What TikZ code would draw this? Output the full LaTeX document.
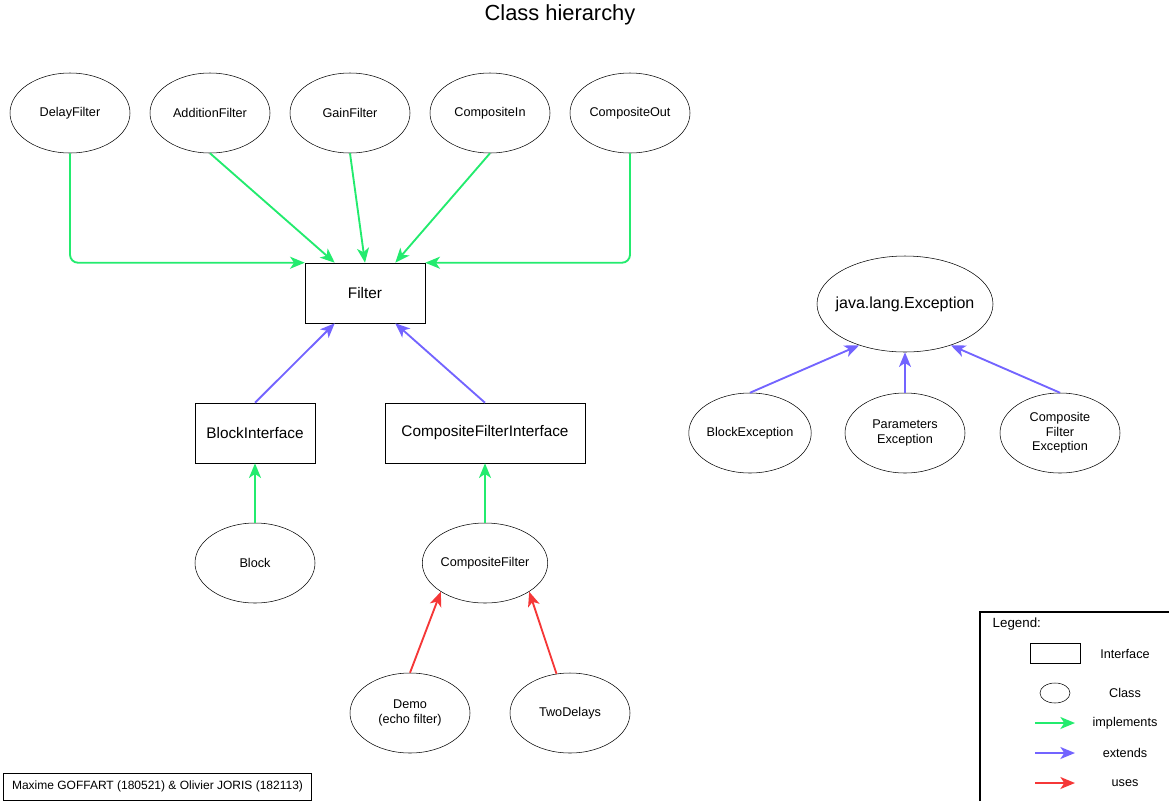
\documentclass[tikz,border=0pt]{standalone}
\usepackage{fontspec}
\setmainfont{Liberation Sans}
\usetikzlibrary{shapes.geometric,arrows.meta}
\definecolor{impl}{RGB}{35,235,110}
\definecolor{ext}{RGB}{115,100,255}
\definecolor{usec}{RGB}{245,55,55}
\begin{document}
\begin{tikzpicture}[x=0.75pt,y=-0.75pt,
  cls/.style={draw,ellipse,minimum width=90pt,minimum height=60pt,inner sep=0pt,font=\fontsize{9.5}{11}\selectfont,align=center},
  iface/.style={draw,rectangle,minimum width=90pt,minimum height=45pt,inner sep=0pt,font=\fontsize{11.5}{13}\selectfont},
  arr/.style={line width=1.4pt,-{Stealth[length=11pt,width=9pt,inset=3pt]}},
  implarrow/.style={arr,draw=impl},
  extarrow/.style={arr,draw=ext},
  usearrow/.style={arr,draw=usec},
  lbl/.style={font=\fontsize{9.5}{11}\selectfont}
]
\useasboundingbox (0,0) rectangle (1172,801);
\node[font=\fontsize{16.4}{19}\selectfont] (title) at (560,15) {Class hierarchy};

% top classes
\node[cls] (delay) at (70,113) {DelayFilter};
\node[cls] (add) at (210,113) {AdditionFilter};
\node[cls] (gain) at (350,113) {GainFilter};
\node[cls] (cin) at (490,113) {CompositeIn};
\node[cls] (cout) at (630,113) {CompositeOut};

% interfaces
\node[iface] (filter) at (365,293) {Filter};
\node[iface] (bi) at (255,433) {BlockInterface};
\node[iface,minimum width=150pt] (cfi) at (485,433) {CompositeFilterInterface};

% classes
\node[cls] (block) at (255,563) {Block};
\node[cls] (cf) at (485,563) {CompositeFilter};
\node[cls] (demo) at (410,713) {Demo\\(echo filter)};
\node[cls] (twod) at (570,713) {TwoDelays};

% exceptions
\node[cls,minimum width=132pt,minimum height=72pt,inner xsep=-6pt,font=\fontsize{12}{14}\selectfont] (exc) at (905,304) {java.lang.Exception};
\node[cls] (bexc) at (750,433) {BlockException};
\node[cls] (pexc) at (905,433) {Parameters\\Exception};
\node[cls] (cexc) at (1060,433) {Composite\\Filter\\Exception};

% implements
\draw[implarrow,rounded corners=6pt] (delay.south) |- (filter.north west);
\draw[implarrow,rounded corners=6pt] (cout.south) |- (filter.north east);
\draw[implarrow] (add.south) -- ([xshift=22.5pt]filter.north west);
\draw[implarrow] (gain.south) -- (filter.north);
\draw[implarrow] (cin.south) -- ([xshift=-22.5pt]filter.north east);
\draw[implarrow] (block.north) -- (bi.south);
\draw[implarrow] (cf.north) -- (cfi.south);

% extends
\draw[extarrow] (bi.north) -- ([xshift=22.5pt]filter.south west);
\draw[extarrow] (cfi.north) -- ([xshift=-22.5pt]filter.south east);
\draw[extarrow] (bexc.north) -- (exc.222);
\draw[extarrow] (pexc.north) -- (exc.south);
\draw[extarrow] (cexc.north) -- (exc.318);

% uses
\draw[usearrow] (demo.north) -- (cf.213);
\draw[usearrow] (twod.109) -- (cf.327);

% legend
\draw[line width=0.9pt] (980,801) -- (980,612) -- (1169,612);
\node[anchor=west,font=\fontsize{10}{11}\selectfont] (legtitle) at (988,624) {Legend:};
\node[draw,rectangle,minimum width=37.5pt,minimum height=15pt,inner sep=0pt] (legiface) at (1055,653) {};
\node[lbl] (legifacet) at (1125,654) {Interface};
\node[draw,ellipse,minimum width=22.5pt,minimum height=15pt,inner sep=0pt] (legcls) at (1055,693) {};
\node[lbl] (legclst) at (1125,693) {Class};
\coordinate (li1) at (1035,723); \coordinate (li2) at (1075,723);
\coordinate (le1) at (1035,753); \coordinate (le2) at (1075,753);
\coordinate (lu1) at (1035,783); \coordinate (lu2) at (1075,783);
\draw[implarrow] (li1) -- (li2);
\draw[extarrow] (le1) -- (le2);
\draw[usearrow] (lu1) -- (lu2);
\node[lbl] (legimpl) at (1125,723) {implements};
\node[lbl] (legext) at (1125,753) {extends};
\node[lbl] (leguse) at (1125,783) {uses};

% authors
\node[draw,rectangle,minimum width=231pt,minimum height=20pt,inner sep=0pt,font=\fontsize{9}{10.5}\selectfont] (authors) at (157.5,786.5) {Maxime GOFFART (180521) \& Olivier JORIS (182113)};
\end{tikzpicture}
\end{document}
